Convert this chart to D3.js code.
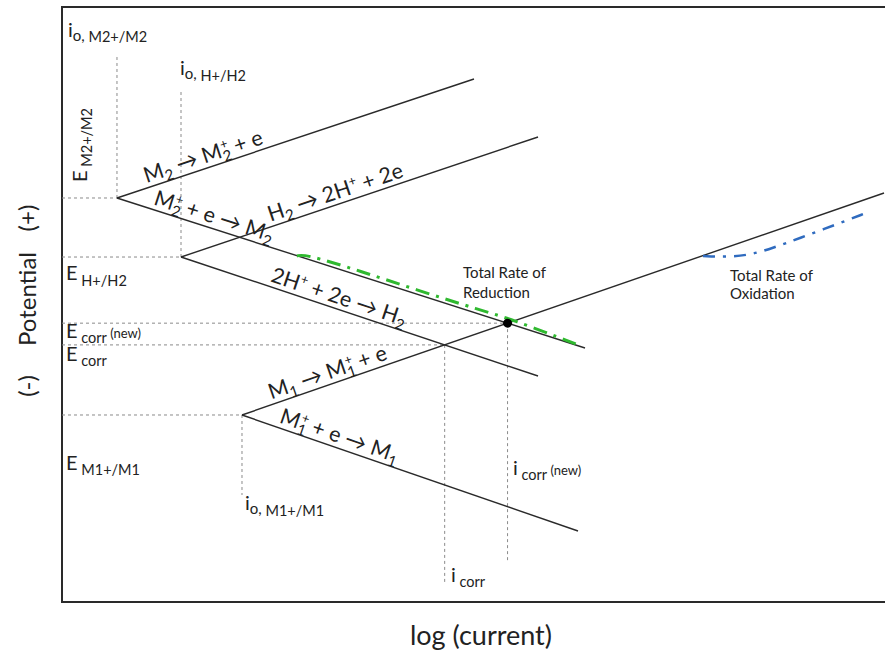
<!DOCTYPE html>
<html>
<head>
<meta charset="utf-8">
<script src="https://cdn.jsdelivr.net/npm/d3@7"></script>
<style>
  body { margin: 0; background: #fff; }
  svg text { font-family: Lato, "Open Sans", sans-serif; fill: #222; }
</style>
</head>
<body>
<div id="chart"></div>
<script>
// Evans diagram (mixed potential theory), arbitrary units:
// x = log(current) 0..100, y = potential 0..100

// equilibrium points (exchange current density, equilibrium potential)
const couples = ["M2", "H", "M1"];
const eqLogI = [6.68, 14.46, 21.87];
const eqE = [67.90, 57.98, 31.43];

// far ends of the anodic (oxidation) and cathodic (reduction) Tafel lines
const oxEnd = [[50.06, 87.90], [57.84, 78.15], [99.88, 68.74]];
const redEnd = [[63.55, 42.69], [57.84, 37.98], [62.70, 11.93]];

// end of each i_o guide (top for M2 and H, bottom for M1)
const ioGuideEnd = [91.93, 86.05, 17.98];

// bottom of the i_corr guides
const icorrGuideEnd = 3.03;
const icorrNewGuideEnd = 6.55;

// summed curves
const totalReduction = [[28.55, 58.15], [29.53, 58.49], [36.21, 55.63], [43.50, 52.27],
  [50.79, 49.08], [54.56, 47.56], [62.45, 43.36]];
const totalOxidation = [[77.89, 58.15], [80.80, 57.98], [83.60, 58.32], [86.39, 59.50],
  [89.67, 61.18], [93.92, 63.36], [97.69, 65.38]];

const width = 885, height = 654;
const frame = { left: 62, top: 7, right: 892, bottom: 602 };

const svg = d3.select("#chart").append("svg")
  .attr("width", width)
  .attr("height", height);

const x = d3.scaleLinear().domain([0, 100]).range([62, 885]);
const y = d3.scaleLinear().domain([0, 100]).range([602, 7]);

// helpers
function intersect(a0, a1, b0, b1) {
  const s1 = (a1[1] - a0[1]) / (a1[0] - a0[0]);
  const s2 = (b1[1] - b0[1]) / (b1[0] - b0[0]);
  const xi = (b0[1] - a0[1] + s1 * a0[0] - s2 * b0[0]) / (s1 - s2);
  return [xi, a0[1] + s1 * (xi - a0[0])];
}

// parts: [text, fontSize, baseline shift (px, + = down), dx]
function rich(sel, parts) {
  let cur = 0;
  parts.forEach(p => {
    const t = sel.append("tspan")
      .attr("font-size", p[1])
      .attr("dy", p[2] - cur)
      .text(p[0]);
    if (p[3]) t.attr("dx", p[3]);
    cur = p[2];
  });
  return sel;
}

const origins = couples.map((c, i) => [eqLogI[i], eqE[i]]);

// intersections
const corr = intersect(origins[2], oxEnd[2], origins[1], redEnd[1]);     // M1 ox vs H red
const corrNew = intersect(origins[2], oxEnd[2], origins[0], redEnd[0]);  // M1 ox vs M2 red

// frame
svg.append("rect")
  .attr("x", frame.left)
  .attr("y", frame.top)
  .attr("width", frame.right - frame.left)
  .attr("height", frame.bottom - frame.top)
  .attr("fill", "none")
  .attr("stroke", "#2a2a2a")
  .attr("stroke-width", 2);

// dashed guides
const guides = [];
origins.forEach((o, i) => {
  guides.push([[0, o[1]], o]);
  guides.push([o, [o[0], ioGuideEnd[i]]]);
});
guides.push([[0, corrNew[1]], corrNew]);
guides.push([[0, corr[1]], corr]);
guides.push([corr, [corr[0], icorrGuideEnd]]);
guides.push([corrNew, [corrNew[0], icorrNewGuideEnd]]);

svg.append("g").selectAll("line")
  .data(guides)
  .join("line")
  .attr("x1", d => x(d[0][0]))
  .attr("y1", d => y(d[0][1]))
  .attr("x2", d => x(d[1][0]))
  .attr("y2", d => y(d[1][1]))
  .attr("stroke", "#8a8a8a")
  .attr("stroke-width", 1)
  .attr("stroke-dasharray", "3,3");

// Tafel lines
const tafel = [];
origins.forEach((o, i) => {
  tafel.push([o, oxEnd[i]]);
  tafel.push([o, redEnd[i]]);
});
svg.append("g").selectAll("line")
  .data(tafel)
  .join("line")
  .attr("x1", d => x(d[0][0]))
  .attr("y1", d => y(d[0][1]))
  .attr("x2", d => x(d[1][0]))
  .attr("y2", d => y(d[1][1]))
  .attr("stroke", "#2a2a2a")
  .attr("stroke-width", 1.4);

// summed curves
const curve = d3.line().x(d => x(d[0])).y(d => y(d[1])).curve(d3.curveBasis);
svg.append("path")
  .attr("d", curve(totalReduction))
  .attr("fill", "none")
  .attr("stroke", "#2fb92f")
  .attr("stroke-width", 3)
  .attr("stroke-dasharray", "14,7,3,7");
svg.append("path")
  .attr("d", curve(totalOxidation))
  .attr("fill", "none")
  .attr("stroke", "#2f6bbf")
  .attr("stroke-width", 2.5)
  .attr("stroke-dasharray", "12,8,3,8");

// new corrosion point
svg.append("circle")
  .attr("cx", x(corrNew[0]))
  .attr("cy", y(corrNew[1]))
  .attr("r", 4.5)
  .attr("fill", "#000");

// reaction labels along the lines: [line index, t along line, parts]
const big = 21.5, sm = 15, sup = 13;
const reactionLabels = [
  [0, 0.087, [["M", big, 0], ["2", sm, 5], [" \u2192 M", big, 0], ["2", sm, 5], ["+", sup, -8, -8], [" + e", big, 0]]],
  [1, 0.073, [["M", big, 0], ["2", sm, 5], ["+", sup, -8, -8], [" + e \u2192 M", big, 0], ["2", sm, 5]]],
  [2, 0.255, [["H", big, 0], ["2", sm, 5], [" \u2192 2H", big, 0], ["+", sup, -8], [" + 2e", big, 0]]],
  [3, 0.244, [["2H", big, 0], ["+", sup, -8], [" + 2e \u2192 H", big, 0], ["2", sm, 5]]],
  [4, 0.048, [["M", big, 0], ["1", sm, 5], [" \u2192 M", big, 0], ["1", sm, 5], ["+", sup, -8, -8], [" + e", big, 0]]],
  [5, 0.104, [["M", big, 0], ["1", sm, 5], ["+", sup, -8, -8], [" + e \u2192 M", big, 0], ["1", sm, 5]]]
];
reactionLabels.forEach(([li, t, parts]) => {
  const [a, b] = tafel[li];
  const x0 = x(a[0]), y0 = y(a[1]), x1 = x(b[0]), y1 = y(b[1]);
  const ang = Math.atan2(y1 - y0, x1 - x0) * 180 / Math.PI;
  const px = x0 + t * (x1 - x0), py = y0 + t * (y1 - y0);
  const g = svg.append("g").attr("transform", `translate(${px},${py}) rotate(${ang})`);
  rich(g.append("text").attr("x", 0).attr("y", -5), parts);
});

// potential / current labels
const E = 20, s = 14.5;
const staticLabels = [
  [68, 37, [["i", E, 0], ["o,", 15, 4], [" M2+/M2", s, 5]]],
  [180, 75, [["i", E, 0], ["o,", 15, 4], [" H+/H2", s, 6]]],
  [66, 280, [["E", E, 0], [" H+/H2", s, 6]]],
  [66, 338, [["E", E, 0], [" corr", s, 5], [" (new)", 13, 0]]],
  [66, 361, [["E", E, 0], [" corr", s, 5]]],
  [66, 470, [["E", E, 0], [" M1+/M1", s, 5]]],
  [245, 510, [["i", E, 0], ["o,", 15, 4], [" M1+/M1", s, 6]]],
  [451, 582, [["i", E, 0], [" corr", s, 5]]],
  [513, 475, [["i", E, 0], [" corr", s, 5], [" (new)", 13, 0]]]
];
staticLabels.forEach(([lx, ly, parts]) => {
  rich(svg.append("text").attr("x", lx).attr("y", ly), parts);
});

// rotated E for M2 couple
const eM2 = svg.append("text")
  .attr("transform", "translate(87,182) rotate(-90)");
rich(eM2, [["E", E, 0], [" M2+/M2", s, 5]]);

// total-rate captions
[[463, 278, "Total Rate of"], [463, 298, "Reduction"],
 [730, 281, "Total Rate of"], [730, 299, "Oxidation"]].forEach(([lx, ly, txt]) => {
  svg.append("text").attr("x", lx).attr("y", ly).attr("font-size", 15).text(txt);
});

// axis titles
svg.append("text")
  .attr("x", 481)
  .attr("y", 645)
  .attr("text-anchor", "middle")
  .attr("font-size", 27)
  .text("log (current)");

[[386, "(-)"], [299, "Potential"], [218, "(+)"]].forEach(([cy, txt]) => {
  svg.append("text")
    .attr("transform", `translate(36,${cy}) rotate(-90)`)
    .attr("text-anchor", "middle")
    .attr("font-size", 24)
    .text(txt);
});
</script>
</body>
</html>
